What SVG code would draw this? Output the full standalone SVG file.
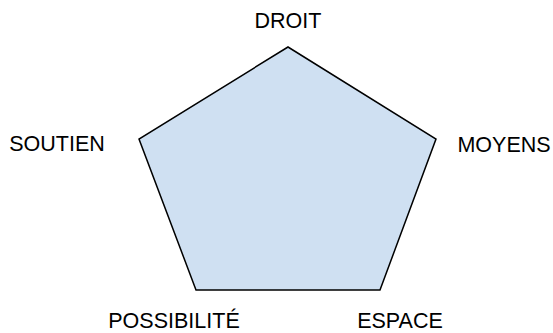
<svg xmlns="http://www.w3.org/2000/svg" width="553" height="333" viewBox="0 0 553 333">
<style>
.lbl{font-family:"Liberation Sans",Arial,sans-serif;font-size:21.5px;fill:#000;text-anchor:middle}
.shape{fill:#cfe0f2;stroke:#000;stroke-width:1.5;stroke-linejoin:miter}
</style>
<rect width="553" height="333" fill="#fff"/>
<g id="pentagon"><polygon class="shape" points="288,47 436,139 380,290 196,290 139,139"/></g>
<g id="connectors"></g>
<g id="droit"><text class="lbl" x="288" y="28">DROIT</text></g>
<g id="soutien"><text class="lbl" x="57" y="151">SOUTIEN</text></g>
<g id="moyens"><text class="lbl" x="504" y="152">MOYENS</text></g>
<g id="possibilite"><text class="lbl" x="174" y="328">POSSIBILITÉ</text></g>
<g id="espace"><text class="lbl" x="400" y="328">ESPACE</text></g>
</svg>
